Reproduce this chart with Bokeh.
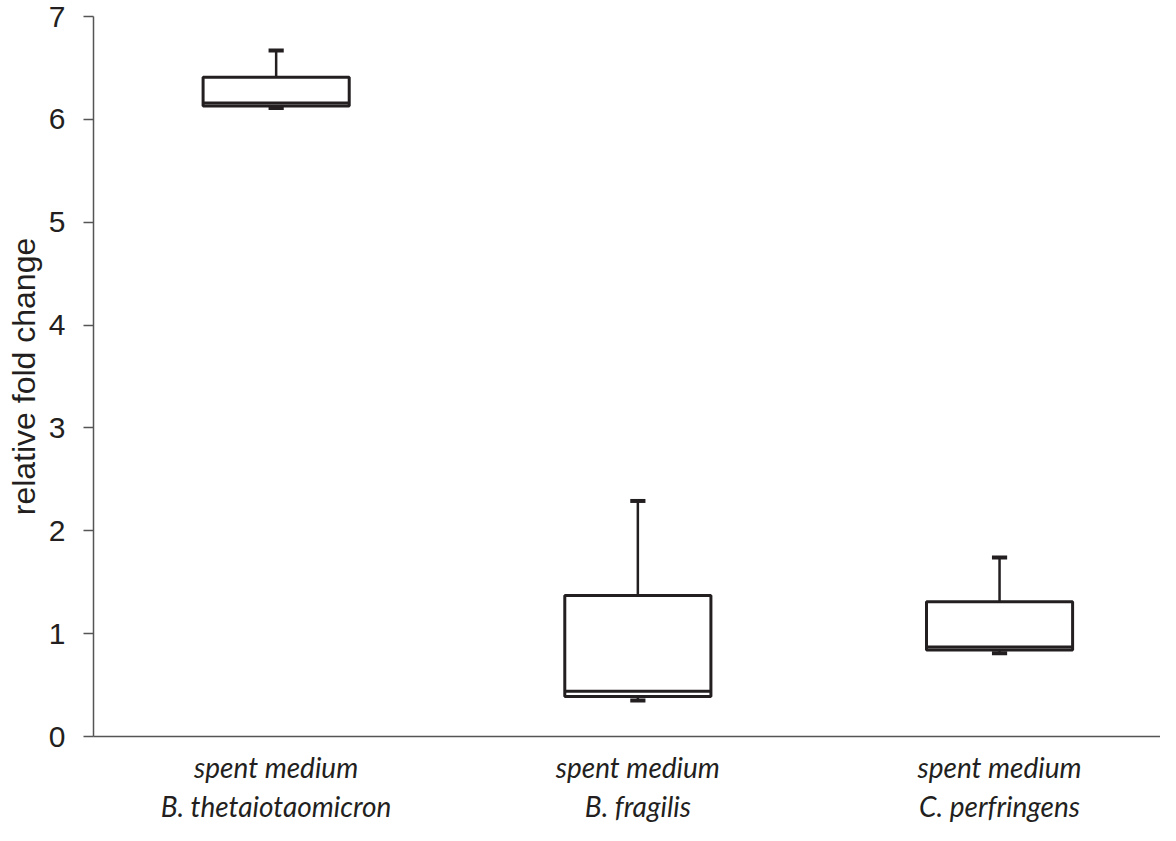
from bokeh.plotting import figure
from bokeh.models import Range1d, FixedTicker, ColumnDataSource
from bokeh.embed import file_html
from bokeh.resources import INLINE

# data
groups = ["spent medium\nB. thetaiotaomicron", "spent medium\nB. fragilis", "spent medium\nC. perfringens"]
lower = [6.11, 0.35, 0.81]
q1 = [6.13, 0.39, 0.84]
median = [6.16, 0.44, 0.87]
q3 = [6.41, 1.37, 1.31]
upper = [6.67, 2.29, 1.74]
y_ticks = [0, 1, 2, 3, 4, 5, 6, 7]

xpos = [1, 2, 3]
bw = 0.404
cw = 0.042
col = "#231f20"

src = ColumnDataSource(dict(
    x=xpos,
    left=[x - bw / 2 for x in xpos], right=[x + bw / 2 for x in xpos],
    cl=[x - cw / 2 for x in xpos], cr=[x + cw / 2 for x in xpos],
    lower=lower, q1=q1, median=median, q3=q3, upper=upper,
))

p = figure(width=1160, height=825, output_backend="svg", toolbar_location=None,
           x_range=Range1d(0.495, 3.445), y_range=Range1d(0, 7),
           min_border_left=93, min_border_top=16, min_border_right=0, min_border_bottom=78)
p.outline_line_color = None
p.grid.visible = False
p.background_fill_color = "white"

# whiskers
p.segment(x0="x", y0="q3", x1="x", y1="upper", source=src, line_color=col, line_width=2.5)
p.segment(x0="x", y0="q1", x1="x", y1="lower", source=src, line_color=col, line_width=2.5)
p.segment(x0="cl", y0="upper", x1="cr", y1="upper", source=src, line_color=col, line_width=4)
p.segment(x0="cl", y0="lower", x1="cr", y1="lower", source=src, line_color=col, line_width=4)
# boxes
p.quad(left="left", right="right", bottom="q1", top="q3", source=src,
       fill_color="white", line_color=col, line_width=3)
p.segment(x0="left", y0="median", x1="right", y1="median", source=src, line_color=col, line_width=3)

# y axis
ya = p.yaxis[0]
ya.ticker = FixedTicker(ticks=y_ticks)
ya.axis_label = "relative fold change"
ya.axis_label_text_font = "Liberation Sans"
ya.axis_label_text_font_style = "normal"
ya.axis_label_text_font_size = "32px"
ya.axis_label_text_color = col
ya.axis_label_standoff = 4
ya.major_label_text_font = "Liberation Sans"
ya.major_label_text_font_size = "30px"
ya.major_label_text_color = col
ya.major_label_standoff = 18
ya.major_tick_out = 10
ya.major_tick_in = 0
ya.minor_tick_line_color = None
ya.axis_line_color = "#555555"
ya.major_tick_line_color = "#555555"
ya.axis_line_width = 1.5
ya.major_tick_line_width = 1.5

# x axis
xa = p.xaxis[0]
xa.ticker = FixedTicker(ticks=xpos)
xa.major_label_overrides = {x: g for x, g in zip(xpos, groups)}
xa.major_label_text_font = "Lato"
xa.major_label_text_font_style = "italic"
xa.major_label_text_font_size = "28px"
xa.major_label_text_line_height = 1.15
xa.major_label_text_color = col
xa.major_label_standoff = 13
xa.axis_label_standoff = 0
xa.major_tick_line_color = None
xa.major_tick_out = 0
xa.minor_tick_line_color = None
xa.axis_line_color = "#555555"
xa.axis_line_width = 1.5

open("out.html", "w").write(file_html(p, INLINE))
